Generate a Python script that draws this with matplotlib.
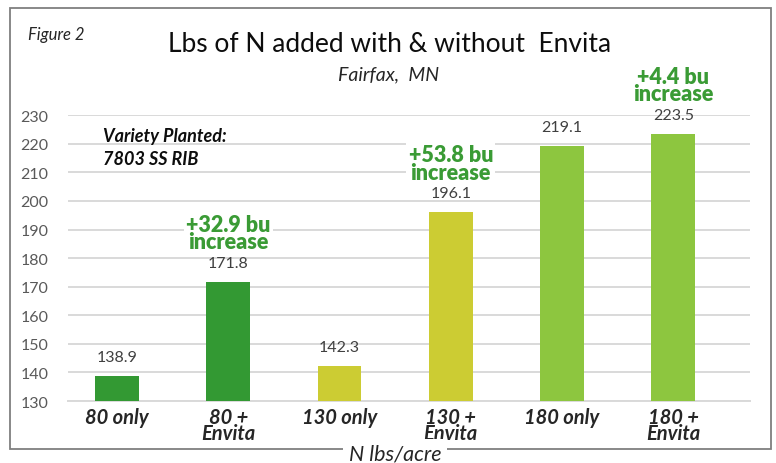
import matplotlib.pyplot as plt
import matplotlib.patches as mpatches
import numpy as np

plt.rcParams['font.family'] = ['Lato', 'DejaVu Sans']

# data
categories = ['80 only', '80 +\nEnvita', '130 only', '130 +\nEnvita', '180 only', '180 +\nEnvita']
yields = [138.9, 171.8, 142.3, 196.1, 219.1, 223.5]
increases = {1: '+32.9 bu\nincrease', 3: '+53.8 bu\nincrease', 5: '+4.4 bu\nincrease'}
bar_colors = ['#339933', '#339933', '#cccc33', '#cccc33', '#8dc63f', '#8dc63f']

fig = plt.figure(figsize=(7.76, 4.64), dpi=100)
ax = fig.add_axes([0.0876, 0.1336, 0.879, 0.616])

x = np.arange(len(categories))
bars = ax.bar(x, np.array(yields) - 130, bottom=130, width=0.395, color=bar_colors, zorder=3)

ax.set_ylim(130, 230)
ax.set_xlim(-0.44, 5.69)
ax.set_yticks(range(130, 231, 10))
ax.yaxis.grid(True, color='#d9d9d9', linewidth=1.4, zorder=0)
for s in ['top', 'right', 'left']:
    ax.spines[s].set_visible(False)
ax.spines['bottom'].set_color('#d9d9d9')
ax.spines['bottom'].set_linewidth(1.4)
ax.tick_params(axis='both', length=0)
ax.tick_params(axis='y', labelsize=11.5, labelcolor='#595959', pad=14)
ax.set_xticks(x)
ax.set_xticklabels(categories, fontsize=14.5, fontweight='bold', style='italic',
                   color='#262626', linespacing=0.8, va='top')
ax.tick_params(axis='x', pad=4)

# value labels and increases
for i, v in enumerate(yields):
    ax.annotate(f'{v}', (x[i], v), xytext=(0, 13.7), textcoords='offset points',
                ha='center', va='center', fontsize=11.5, color='#404040')
    if i in increases:
        ax.annotate(increases[i], (x[i], v), xytext=(0, 35), textcoords='offset points',
                    ha='center', va='center', fontsize=15.5, fontweight='heavy',
                    color='#3a9b35', linespacing=0.8,
                    bbox=dict(boxstyle='square,pad=0.1', fc='white', ec='none'),
                    annotation_clip=False, zorder=5)

# border
fig.patches.append(mpatches.Rectangle((10 / 776, 1 - 450 / 464), 761 / 776, 441 / 464,
                                      transform=fig.transFigure, fill=False,
                                      edgecolor='#7f7f7f', linewidth=1.3))

fig.text(28 / 776, 1 - 35 / 464, 'Figure 2', fontsize=12, style='italic', va='center', color='#262626')
fig.text(390 / 776, 1 - 45 / 464, 'Lbs of N added with & without  Envita', fontsize=19,
         ha='center', va='center', color='#0d0d0d')
fig.text(389 / 776, 1 - 75 / 464, 'Fairfax,  MN', fontsize=14, style='italic',
         ha='center', va='center', color='#262626')
fig.text(103 / 776, 1 - 148 / 464, 'Variety Planted:\n7803 SS RIB', fontsize=13,
         fontweight='bold', style='italic', va='center', linespacing=1.45, color='#0d0d0d')
fig.text(395 / 776, 1 - 455 / 464, 'N lbs/acre', fontsize=15.5, style='italic',
         ha='center', va='center', color='#262626',
         bbox=dict(boxstyle='square,pad=0.25', fc='white', ec='none'))

fig.savefig('out.png', dpi=100)
